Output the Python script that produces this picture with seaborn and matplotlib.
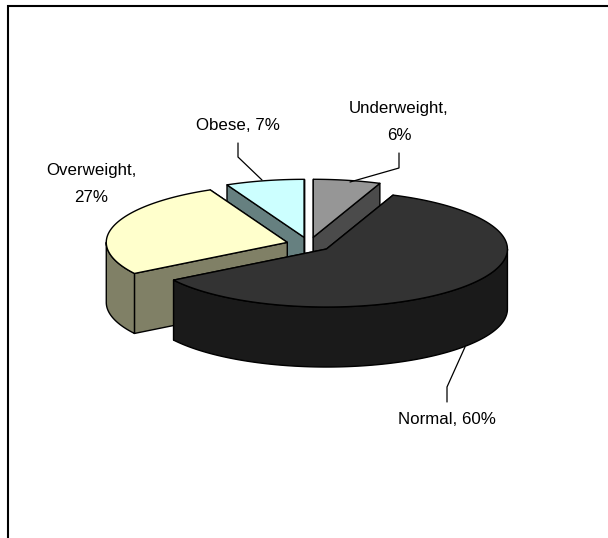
import numpy as np
import matplotlib
matplotlib.use("Agg")
import matplotlib.pyplot as plt
import seaborn as sns

# Data
categories = ["Underweight", "Normal", "Overweight", "Obese"]
values = [6, 60, 27, 7]
label_texts = ["Underweight,\n6%", "Normal, 60%", "Overweight,\n27%", "Obese, 7%"]
top_colors = ["#969696", "#333333", "#FFFFCC", "#CCFFFF"]
side_colors = ["#4B4B4B", "#1A1A1A", "#808066", "#668080"]

# Style / layout (pixels)
CX, CY, RX, RY, EXPLODE, DEPTH = 309, 244.4, 181, 58, 0.125, 60
label_pos = {"Underweight": (399, 122), "Normal": (447, 420),
             "Overweight": (91, 184), "Obese": (238, 125)}
leaders = {"Underweight": [(399, 153), (399, 168), (350, 182)],
           "Normal": [(447, 402), (447, 387), (465, 347)],
           "Obese": [(238, 143), (238, 157), (262, 180)]}

sns.set_theme(style="white")
plt.rcParams["font.family"] = ["Liberation Sans", "DejaVu Sans"]

fig = plt.figure(figsize=(6.08, 5.38), dpi=100, facecolor="white")
ax = fig.add_axes([0, 0, 1, 1])
ax.set_xlim(0, 608)
ax.set_ylim(538, 0)
ax.axis("off")

EDGE = dict(edgecolor="black", linewidth=1.0, joinstyle="round")


def arc(ox, oy, a0, a1):
    t = np.radians(np.linspace(a0, a1, max(int(abs(a1 - a0) * 2), 2)))
    return ox + RX * np.sin(t), oy - RY * np.cos(t)


total = sum(values)
edges = np.cumsum([0] + values) / total * 360
slices = []
for i, name in enumerate(categories):
    a0, a1 = edges[i], edges[i + 1]
    mid = np.radians((a0 + a1) / 2)
    ox = CX + EXPLODE * RX * np.sin(mid)
    oy = CY - EXPLODE * RY * np.cos(mid)
    slices.append((i, a0, a1, ox, oy))

# back to front
for i in [0, 3, 2, 1]:
    _, a0, a1, ox, oy = slices[i]
    # cut faces, the one further back first
    corners = []
    for a in (a0, a1):
        ex, ey = arc(ox, oy, a, a)
        corners.append((ey[0], ex[0]))
    for ey, ex in sorted(corners):
        ax.fill([ox, ex, ex, ox], [oy, ey, ey + DEPTH, oy + DEPTH],
                facecolor=side_colors[i], **EDGE)
    # outer wall (front-facing part of the rim)
    w0, w1 = max(a0, 90), min(a1, 270)
    if w1 > w0:
        x, y = arc(ox, oy, w0, w1)
        ax.fill(np.r_[x, x[::-1]], np.r_[y, y[::-1] + DEPTH],
                facecolor=side_colors[i], **EDGE)
    # top surface
    x, y = arc(ox, oy, a0, a1)
    ax.fill(np.r_[ox, x], np.r_[oy, y], facecolor=top_colors[i], **EDGE)

# Labels and leader lines
for i, name in enumerate(categories):
    lx, ly = label_pos[name]
    ax.text(lx, ly, label_texts[i], ha="center", va="center", fontsize=12.2,
            color="black", linespacing=2.0)
    if name in leaders:
        px, py = zip(*leaders[name])
        ax.plot(px, py, color="black", lw=0.9, solid_joinstyle="miter")

# Chart-area border (top and left only are visible)
ax.plot([608, 8, 8], [6, 6, 538], color="black", lw=1.5, solid_joinstyle="miter")

fig.savefig("out.png", dpi=100, facecolor="white")
